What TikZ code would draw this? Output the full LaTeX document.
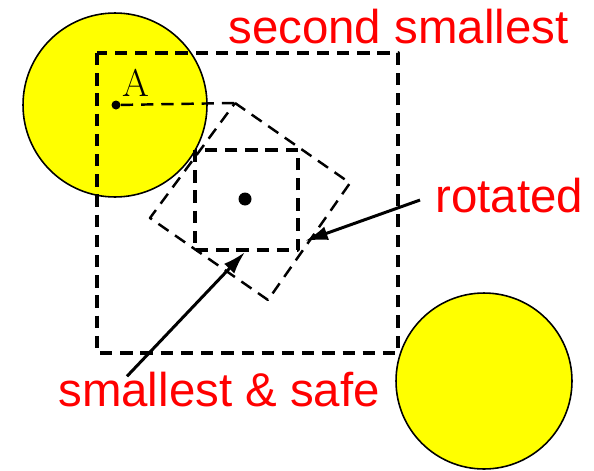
\documentclass[tikz,border=0pt]{standalone}
\usepackage{fontspec}
\newfontfamily\labelfont{Liberation Sans}
\usetikzlibrary{arrows.meta, positioning, calc}
\definecolor{labelred}{HTML}{FF0000}
\definecolor{obstacleyellow}{HTML}{FFFF00}

\begin{document}
\begin{tikzpicture}[x=0.02cm, y=-0.02cm, line join=round,
    obstacle/.style={circle, draw=black, line width=0.9pt, fill=obstacleyellow, inner sep=0pt},
    boxdash/.style={line width=1.9pt, dash pattern=on 7pt off 4.5pt},
    thindash/.style={line width=1.4pt, dash pattern=on 7pt off 4.5pt},
    dot/.style={circle, fill=black, inner sep=0pt},
    lbl/.style={font=\labelfont\fontsize{27}{32}\selectfont, text=labelred, inner sep=0pt, anchor=base west},
    pointer/.style={-{Latex[length=13pt, width=8pt]}, line width=1.7pt}]
      \useasboundingbox (0,0) rectangle (594,470);

      % Obstaculos
      \node[obstacle, minimum size=3.68cm] (obsA) at (115,105) {};
      \node[obstacle, minimum size=3.52cm] (obsB) at (484,381) {};

      % Cajas
      \draw[boxdash] (97,53) rectangle (398,353);
      \coordinate (rtop) at (235,103);
      \coordinate (rright) at (350,183);
      \coordinate (rbottom) at (268,300);
      \coordinate (rleft) at (150,218);
      \draw[thindash] (rtop) -- (rright) -- (rbottom) -- (rleft) -- cycle;
      \draw[boxdash] (195,150) rectangle (298,250);

      % Puntos
      \node[dot, minimum size=0.18cm] (ptA) at (116,105) {};
      \node[font=\fontsize{22}{26}\selectfont, inner sep=0pt] (lblA) at (136,83) {A};
      \draw[thindash] (ptA) -- (rtop);
      \node[dot, minimum size=0.26cm] (center) at (245,199) {};

      % Etiquetas
      \node[lbl] (second) at (228,43) {second smallest};
      \node[lbl] (rotlbl) at (435,212) {rotated};
      \node[lbl] (safelbl) at (58,406) {smallest \& safe};

      % Flechas
      \coordinate (rottip) at (305,241);
      \coordinate (safetip) at (245,252);
      \draw[pointer] ($(rotlbl.west)+(-15,5)$) -- (rottip);
      \draw[pointer] ($(safelbl.north west)+(69,5)$) -- (safetip);
    \end{tikzpicture}
\end{document}
